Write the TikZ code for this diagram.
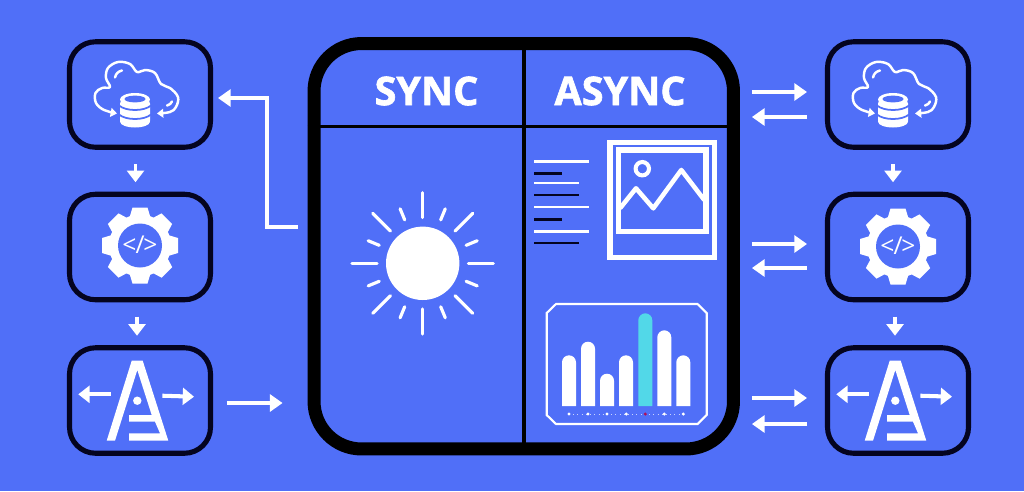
\documentclass[tikz,border=0pt]{standalone}
\usepackage{fontspec}
\setmainfont{Open Sans}
\newfontfamily\headfont[FakeBold=1.6]{Open Sans Bold}
\usepackage{xcolor}
\usetikzlibrary{positioning,arrows.meta,calc}
\definecolor{pagebg}{RGB}{80,111,248}
\definecolor{inkdark}{RGB}{4,4,32}
\definecolor{barcyan}{RGB}{82,216,232}
\definecolor{dotred}{RGB}{176,16,90}
\tikzset{
  srvbox/.style={draw=inkdark,line width=2.9pt,rounded corners=.52cm,minimum width=2.82cm,minimum height=2.11cm},
  mainbox/.style={draw=black,line width=7.4pt,rounded corners=.95cm,minimum width=8.39cm,minimum height=8.11cm},
  headtxt/.style={text=white,font=\fontsize{22.5}{24}\headfont,inner sep=0pt},
  flowarr/.style={white,line width=2.3pt,-{Triangle[width=9.6pt,length=7.2pt]}},
  pairarr/.style={flowarr,shorten <=6.8pt,shorten >=10.2pt},
  downarr/.style={flowarr,line width=2pt,-{Triangle[width=9.6pt,length=6.6pt]},shorten <=8.2pt,shorten >=5.4pt},
  iconline/.style={white,line width=1.4pt,line cap=round,line join=round},
  cloudicon/.pic={
    % cloud outline with its two return arrows
    \draw[iconline,{Triangle[width=5pt,length=3.6pt]}-{Triangle[width=5pt,length=3.6pt]}] plot[smooth,tension=.6] coordinates
      {(-23,19) (-36,15.5) (-44,8.5) (-44.5,-1.5) (-38,-6.5) (-30,-7.5) (-34,-16.5) (-32,-26.5) (-22,-32.5) (-10,-30.5) (-3,-22.5) (5,-24.5) (15,-21.5) (21,-10.5) (30,-6.5) (38,2.5) (36,12.5) (30,17.5) (17,19)};
    \draw[iconline] (-25,-17) .. controls (-24,-21) and (-22,-23) .. (-18,-24);
    \draw[iconline] (27,11) .. controls (30,10) and (31,9) .. (32,7);
    % database
    \fill[white,rounded corners=.1cm] (-20,4) rectangle (10,31);
    \fill[white] (-5,5) ellipse (15 and 6.5);
    \fill[white] (-5,27) ellipse (15 and 6);
    \fill[pagebg] (-5,4.5) ellipse (10.5 and 3.4);
    \draw[pagebg,line width=1pt] (-21,11) .. controls (-14,17) and (4,17) .. (11,11);
    \draw[pagebg,line width=1pt] (-21,20) .. controls (-14,26) and (4,26) .. (11,20);
  },
  gearicon/.pic={
    \fill[white] (0,0) circle[radius=31];
    \foreach \tang in {0,45,...,315}
      \fill[white,rotate=\tang] (28,-10.5) -- (38,-7.5) -- (38,7.5) -- (28,10.5) -- cycle;
    \fill[pagebg] (0,0) circle[radius=22];
    \node[text=white,inner sep=0pt,font=\fontsize{14}{15}\selectfont] (tag) at (0,-.5) {<\kern-.6pt/\kern-.6pt>};
  },
  archicon/.pic={
    \fill[white] (-8.3,-39.8) -- (2.7,-39.8) -- (28.3,40.2) -- (-11,40.2) -- (-11,32.8) -- (20,32.8) -- (15,21.2)
      -- (-11,21.2) -- (-11,14.5) -- (11.7,14.5) -- (-2.7,-30.5) -- (-25,40.2) -- (-33.3,40.2) -- cycle;
    \fill[white] (-2.7,.2) circle[radius=4.2];
    \draw[flowarr,-{Triangle[width=9.6pt,length=6.4pt]}] (-29.3,-6.2) -- (-61.7,-6.2);
    \draw[flowarr,-{Triangle[width=9.6pt,length=6.4pt]}] (22.3,-4.8) -- (54,-3.8);
  }
}
\begin{document}
\begin{tikzpicture}[x=0.02cm,y=-0.02cm]
  \useasboundingbox (0,0) rectangle (1024,491);
  \fill[pagebg] (0,0) rectangle (1024,491);

  % side boxes
  \node[srvbox] (cloudL) at (140,94.5) {};
  \node[srvbox] (gearL) at (140,247) {};
  \node[srvbox] (archL) at (140,400.5) {};
  \node[srvbox] (cloudR) at (898,94.5) {};
  \node[srvbox] (gearR) at (898,247) {};
  \node[srvbox] (archR) at (898,400.5) {};
  \pic (iconCloudL) at (140,94.5) {cloudicon};
  \pic (iconGearL) at (140,245.5) {gearicon};
  \pic (iconArchL) at (140,400.5) {archicon};
  \pic (iconCloudR) at (898,94.5) {cloudicon};
  \pic (iconGearR) at (898,246.5) {gearicon};
  \pic (iconArchR) at (898,400.5) {archicon};

  % centre panel
  \node[mainbox] (panel) at (523.75,246.25) {};
  \draw[black,line width=2.4pt] (panel.north) -- (panel.south);
  \draw[black,line width=2pt] (panel.west |- 0,126.5) -- (panel.east |- 0,126.5);
  \node[headtxt] (syncHead) at (426.5,91) {SYNC};
  \node[headtxt] (asyncHead) at (620,91) {ASYNC};

  % sun
  \coordinate (sunC) at (422.7,263.3);
  \fill[white] (sunC) circle[radius=36.7];
  \foreach \rang in {0,45,...,315}
    \draw[white,line width=1.8pt,line cap=round] ($(sunC)+(\rang:45.7)$) -- ($(sunC)+(\rang:70.7)$);
  \foreach \rang in {22.5,67.5,...,337.5}
    \draw[white,line width=1.8pt,line cap=round] ($(sunC)+(\rang:47)$) -- ($(sunC)+(\rang:59)$);

  % text lines
  \foreach \ly/\lx/\lc in {161.7/589/white,173.3/561.7/inkdark,183/578.7/white,195/578.7/inkdark,207/589/white,219.3/561.7/inkdark,231.3/589/white,243/578.7/inkdark}
    \draw[\lc,line width=1.5pt] (534.3,\ly) -- (\lx,\ly);

  % image frame
  \draw[white,line width=2.9pt] (610,142.3) rectangle (714.3,257.7);
  \draw[white,line width=2.9pt] (618.3,150) rectangle (706,231.7);
  \draw[white,line width=2.3pt] (642.3,168.7) circle[radius=6.7];
  \draw[white,line width=2.6pt,line join=round] (620,208.3) -- (636,188.3) -- (653.3,208.3) -- (681.3,170) -- (704.3,200);

  % chart
  \draw[white,line width=1.2pt] (556,304) -- (697.5,304) -- (706.7,313) -- (706.7,415) -- (697.5,424) -- (556,424) -- (546.7,415) -- (546.7,313) -- cycle;
  \foreach \bx/\bt/\bc in {562/355.3/white,581/341.7/white,600/373.7/white,619/355.3/white,638.3/313.3/barcyan,657.3/330.3/white,676.3/355.3/white}
    \fill[\bc] (\bx,406) [rounded corners=.14cm] -- (\bx,\bt) -- (\bx+14,\bt) [sharp corners] -- (\bx+14,406) -- cycle;
  \draw[white!70!pagebg,line width=.3pt,dash pattern=on .4pt off 2pt] (569,414) -- (683.3,414);
  \foreach \dx/\dc in {569/white,588/white,607/white,626.3/white,645.3/dotred,664.3/white,683.3/white}
    \fill[\dc] (\dx,414) circle[radius=1.7];

  % connectors
  \draw[downarr] ([xshift=-.09cm]cloudL.south) -- ([xshift=-.09cm]gearL.north);
  \draw[downarr] ([xshift=-.06cm]gearL.south) -- ([xshift=-.06cm]archL.north);
  \draw[downarr] ([xshift=-.1cm]cloudR.south) -- ([xshift=-.1cm]gearR.north);
  \draw[downarr] ([xshift=-.06cm]gearR.south) -- ([xshift=-.06cm]archR.north);
  \draw[flowarr,shorten <=7.9pt,shorten >=14.2pt] (archL.east |- 0,403) -- (panel.west |- 0,403);
  \coordinate (bendLow) at (267,227);
  \coordinate (bendUp) at (267,98);
  \draw[flowarr,shorten <=5.7pt,shorten >=2.8pt] (panel.west |- bendLow) -- (bendLow) -- (bendUp) -- (cloudL.east |- bendUp);
  \foreach \nm/\ya/\yb in {cloudR/92/117,gearR/244/268,archR/398/424} {
    \draw[pairarr] (panel.east |- 0,\ya) -- (\nm.west |- 0,\ya);
    \draw[pairarr,shorten <=10.2pt,shorten >=6.8pt] (\nm.west |- 0,\yb) -- (panel.east |- 0,\yb);
  }
\end{tikzpicture}
\end{document}
